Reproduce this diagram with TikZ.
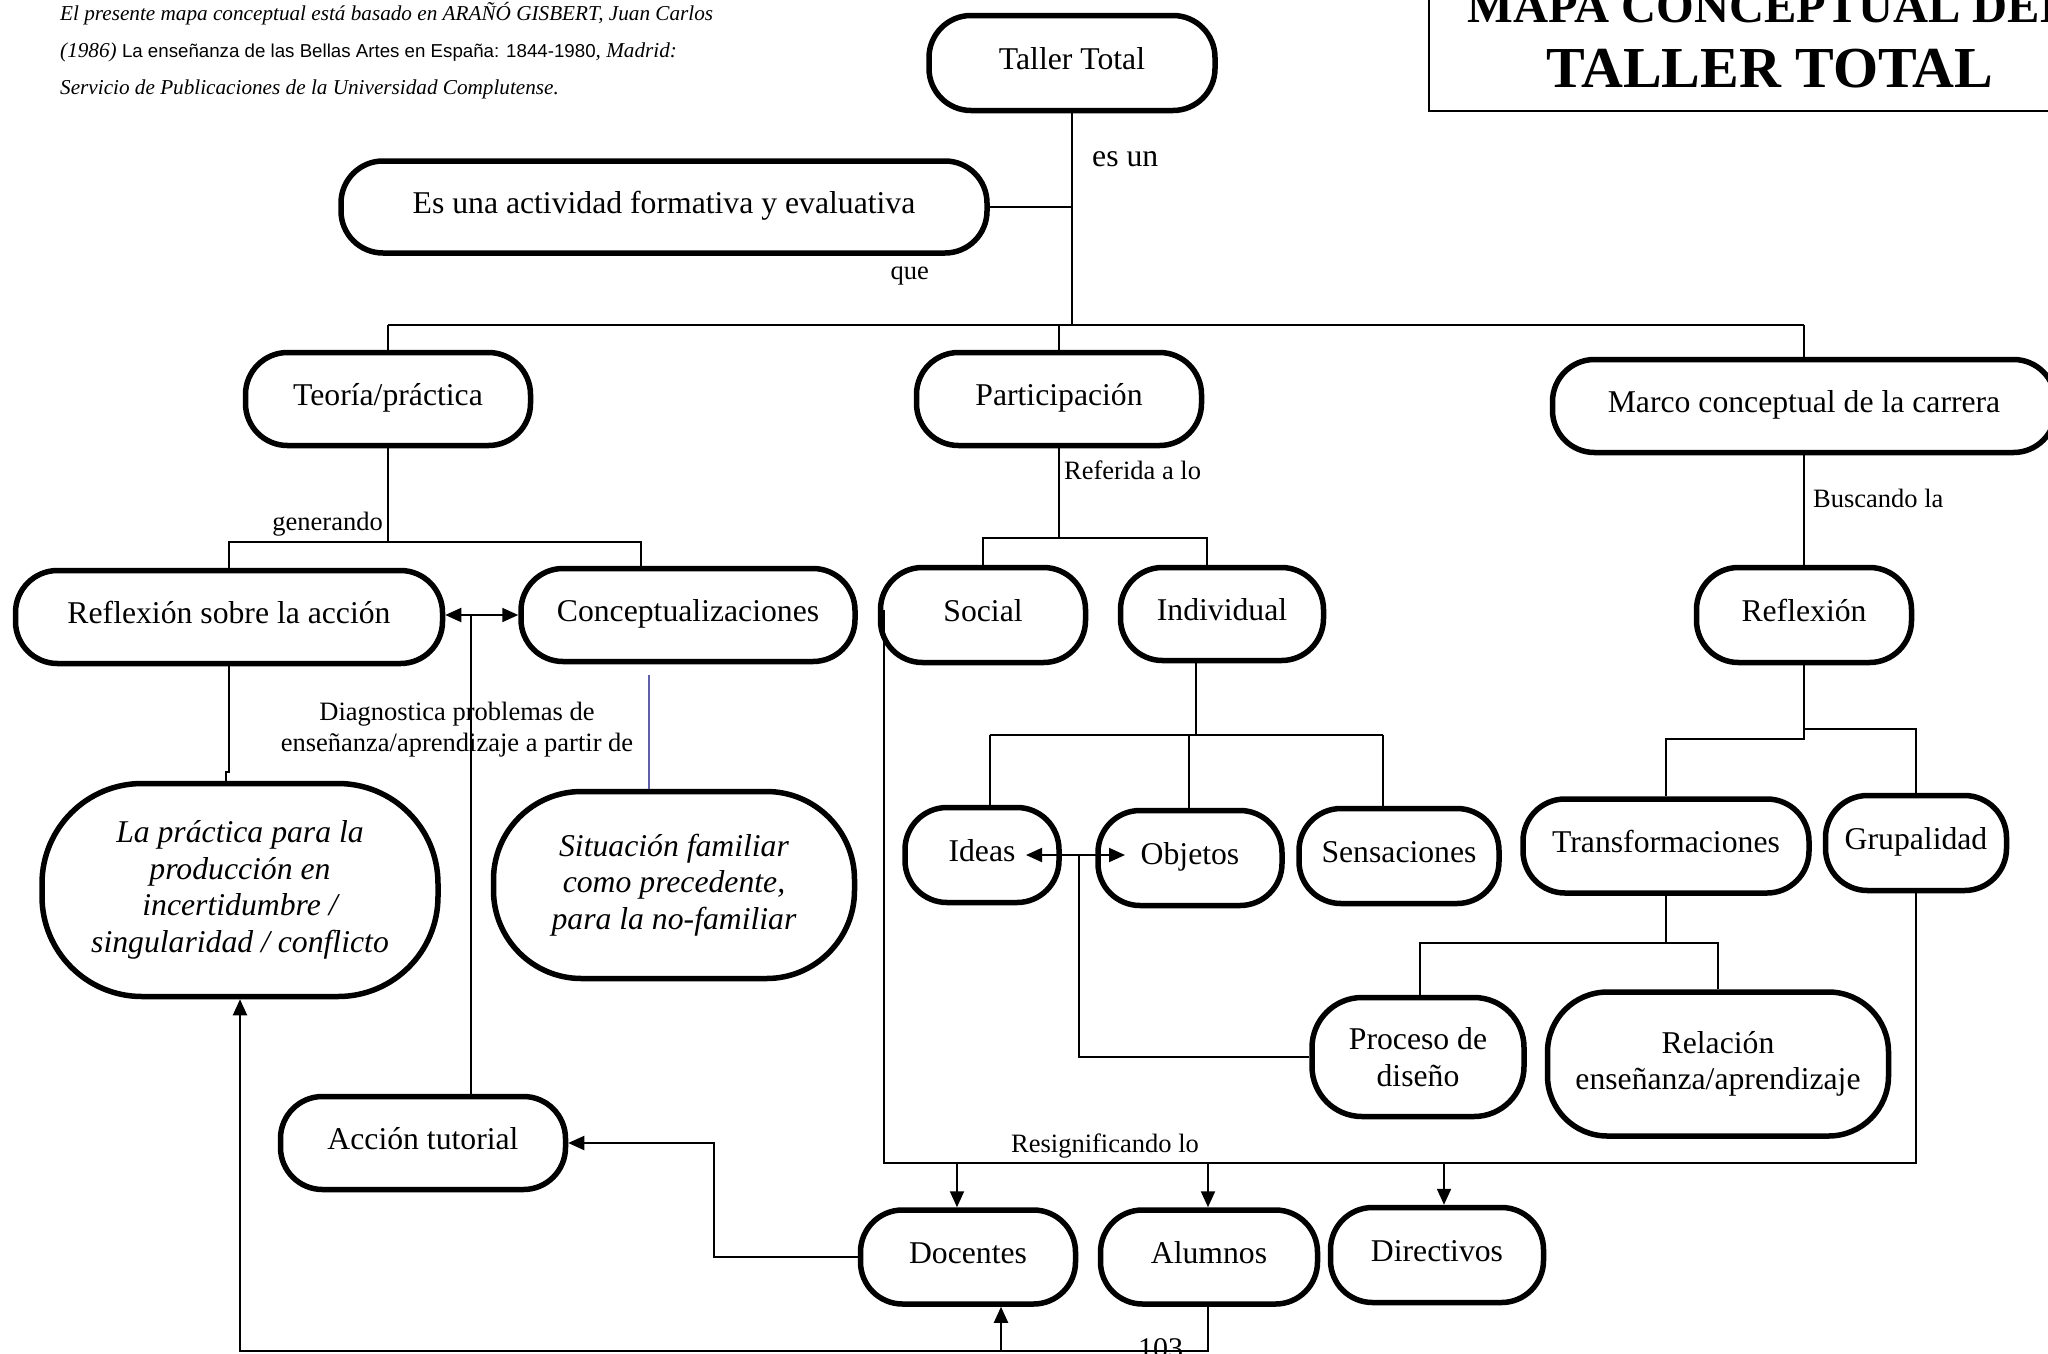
\documentclass[tikz,border=0pt]{standalone}
\usepackage{fontspec}
\setmainfont{Liberation Serif}
\newfontfamily\sansref{Liberation Sans}
\usetikzlibrary{arrows.meta}

\definecolor{slateline}{RGB}{96,96,168}

\tikzset{
  concept/.style={draw, line width=5.5pt, rectangle, rounded corners=42pt,
    inner sep=0pt, align=center, font=\fontsize{31.7}{36.6}\selectfont},
  oneline/.style={text height=20pt, text depth=8pt},
  ital/.style={font=\fontsize{31.7}{36.6}\selectfont\itshape},
  conn/.style={line width=2pt},
  arrowend/.style={-{Triangle[length=16pt,width=14pt]}},
  dblarrow/.style={{Triangle[length=16pt,width=14pt]}-{Triangle[length=16pt,width=14pt]}},
  linklabel/.style={font=\fontsize{26.5}{31}\selectfont, inner sep=0pt},
  slate/.style={line width=1.6pt, draw=slateline},
}

\begin{document}
\begin{tikzpicture}[x=1pt,y=-1pt]
\useasboundingbox (0,0) rectangle (2048,1353);
\clip (0,0) rectangle (2048,1353);

% reference note, top left
\node[anchor=base west, inner sep=0pt, font=\fontsize{21.2}{37}\selectfont\itshape] (note1) at (60,20)
  {El presente mapa conceptual está basado en ARAÑÓ GISBERT, Juan Carlos};
\node[anchor=base west, inner sep=0pt, font=\fontsize{21.2}{37}\selectfont] (note2) at (60,57)
  {\itshape (1986) \upshape{\sansref\fontsize{18.7}{37}\selectfont La enseñanza de las Bellas Artes en España: 1844-1980}\itshape, Madrid:};
\node[anchor=base west, inner sep=0pt, font=\fontsize{21.2}{37}\selectfont\itshape] (note3) at (60,94)
  {Servicio de Publicaciones de la Universidad Complutense.};

% title box
\draw[line width=2.5pt] (1429,-30) rectangle (2100,111);
\node[anchor=base, inner sep=0pt, font=\bfseries\fontsize{48.5}{50}\selectfont] (title1) at (1770,22) {MAPA CONCEPTUAL DEL};
\node[anchor=base, inner sep=0pt, font=\bfseries\fontsize{58}{60}\selectfont] (title2) at (1770,87) {TALLER TOTAL};

% concepts
\node[concept, oneline, minimum width=286pt, minimum height=95pt] (tt) at (1072,63) {Taller Total};
\node[concept, oneline, minimum width=646pt, minimum height=92pt] (es) at (664,207) {Es una actividad formativa y evaluativa};
\node[concept, oneline, minimum width=285pt, minimum height=93pt] (teo) at (388,399) {Teoría/práctica};
\node[concept, oneline, minimum width=285pt, minimum height=93pt] (par) at (1059,399) {Participación};
\node[concept, oneline, minimum width=503pt, minimum height=93pt] (mar) at (1804,406) {Marco conceptual de la carrera};
\node[concept, oneline, minimum width=427pt, minimum height=93pt] (rsa) at (229,617) {Reflexión sobre la acción};
\node[concept, oneline, minimum width=334pt, minimum height=93pt] (con) at (688,615) {Conceptualizaciones};
\node[concept, oneline, minimum width=205pt, minimum height=95pt] (soc) at (983,615) {Social};
\node[concept, oneline, minimum width=203pt, minimum height=93pt] (ind) at (1222,614) {Individual};
\node[concept, oneline, minimum width=215pt, minimum height=95pt] (ref) at (1804,615) {Reflexión};
\node[concept, ital, minimum width=396pt, minimum height=213pt, rounded corners=100pt] (lap) at (240,890)
  {La práctica para la\\producción en\\incertidumbre /\\singularidad / conflicto};
\node[concept, ital, minimum width=361pt, minimum height=187pt, rounded corners=88pt] (sit) at (674,885)
  {Situación familiar\\como precedente,\\para la no-familiar};
\node[concept, oneline, minimum width=154pt, minimum height=95pt] (ide) at (982,855) {Ideas};
\node[concept, oneline, minimum width=184pt, minimum height=95pt] (obj) at (1190,858) {Objetos};
\node[concept, oneline, minimum width=200pt, minimum height=95pt] (sen) at (1399,856) {Sensaciones};
\node[concept, oneline, minimum width=286pt, minimum height=94pt] (tra) at (1666,846) {Transformaciones};
\node[concept, oneline, minimum width=181pt, minimum height=95pt] (gru) at (1916,843) {Grupalidad};
\node[concept, minimum width=212pt, minimum height=119pt, rounded corners=50pt] (pro) at (1418,1057) {Proceso de\\diseño};
\node[concept, minimum width=341pt, minimum height=144pt, rounded corners=60pt] (rel) at (1718,1064) {Relación\\enseñanza/aprendizaje};
\node[concept, oneline, minimum width=285pt, minimum height=93pt] (act) at (423,1143) {Acción tutorial};
\node[concept, oneline, minimum width=215pt, minimum height=94pt] (doc) at (968,1257) {Docentes};
\node[concept, oneline, minimum width=217pt, minimum height=94pt] (alu) at (1209,1257) {Alumnos};
\node[concept, oneline, minimum width=213pt, minimum height=95pt] (dir) at (1437,1255) {Directivos};

% link labels
\node[linklabel, font=\fontsize{31.7}{36.6}\selectfont, anchor=base west] (lbes) at (1092,166) {es un};
\node[linklabel, anchor=base east] (lbque) at (929,279) {que};
\node[linklabel, anchor=base east] (lbgen) at (383,530) {generando};
\node[linklabel, anchor=base west] (lbref) at (1064,479) {Referida a lo};
\node[linklabel, anchor=base west] (lbbus) at (1813,507) {Buscando la};
\node[linklabel, anchor=base] (lbdia1) at (457,720) {Diagnostica problemas de};
\node[linklabel, anchor=base] (lbdia2) at (457,751) {enseñanza/aprendizaje a partir de};
\node[linklabel, anchor=base] (lbres) at (1105,1152) {Resignificando lo};
\node[anchor=base west, inner sep=0pt, font=\fontsize{30}{30}\selectfont] (pg) at (1138,1358) {103};

% trunk from Taller Total
\coordinate (trunk) at (1072,325);
\draw[conn] (tt.south) -- (trunk);
\draw[conn] (es.east) -- (es.east -| trunk);
\draw[conn] (teo.north |- trunk) -- (mar.north |- trunk);
\draw[conn] (teo.north |- trunk) -- (teo.north);
\draw[conn] (par.north |- trunk) -- (par.north);
\draw[conn] (mar.north |- trunk) -- (mar.north);

% Teoría/práctica branches
\coordinate (tsplit) at (388,542);
\coordinate (cdrop) at (641,542);
\draw[conn] (teo.south) -- (tsplit);
\draw[conn] (rsa.north) -- (rsa.north |- tsplit) -- (cdrop) -- (cdrop |- con.north);

% Participación branches
\coordinate (psplit) at (1059,538);
\coordinate (idrop) at (1207,538);
\draw[conn] (par.south) -- (psplit);
\draw[conn] (soc.north) -- (soc.north |- psplit) -- (idrop) -- (idrop |- ind.north);

% Marco conceptual to Reflexión
\draw[conn] (mar.south) -- (ref.north);

% Reflexión sobre la acción to La práctica
\coordinate (jog) at (229,772);
\coordinate (jogb) at (226,772);
\draw[conn] (rsa.south) -- (jog) -- (jogb) -- (jogb |- lap.north);

% Reflexión sobre la acción <-> Conceptualizaciones, fed by Acción tutorial
\draw[conn, dblarrow] (rsa.east |- con.west) -- (con.west);
\coordinate (tj) at (471,615);
\draw[conn] (act.north -| tj) -- (tj);

% Conceptualizaciones to Situación familiar
\coordinate (bl) at (649,675);
\draw[slate] (bl) -- (bl |- sit.north);

% Individual branches
\coordinate (isplit) at (1196,735);
\coordinate (ideD) at (990,735);
\coordinate (objD) at (1189,735);
\coordinate (senD) at (1383,735);
\draw[conn] (ind.south -| isplit) -- (isplit);
\draw[conn] (ideD) -- (senD);
\draw[conn] (ideD) -- (ideD |- ide.north);
\draw[conn] (objD) -- (objD |- obj.north);
\draw[conn] (senD) -- (senD |- sen.north);

% Ideas <-> Objetos, joined to Proceso de diseño
\coordinate (ioL) at (1026,855);
\coordinate (ioR) at (1125,855);
\coordinate (ioJ) at (1079,855);
\draw[conn, dblarrow] (ioL) -- (ioR);
\draw[conn] (ioJ) -- (ioJ |- pro.west) -- (pro.west);

% Reflexión branches
\coordinate (rs1) at (1804,739);
\coordinate (rs2) at (1804,729);
\draw[conn] (ref.south) -- (rs1) -- (rs1 -| tra.north) -- (tra.north);
\draw[conn] (rs2) -- (rs2 -| gru.north) -- (gru.north);

% Transformaciones branches
\coordinate (ts) at (1666,943);
\coordinate (proD) at (1420,943);
\coordinate (relD) at (1718,943);
\draw[conn] (tra.south) -- (ts);
\draw[conn] (proD |- pro.north) -- (proD) -- (relD) -- (relD |- rel.north);

% Social / Grupalidad loop feeding the actors
\coordinate (sl) at (884,610);
\coordinate (rb) at (884,1163);
\draw[conn] (sl) -- (rb) -- (rb -| gru.south) -- (gru.south);
\coordinate (dA) at (957,1163);
\coordinate (aA) at (1208,1163);
\coordinate (drA) at (1444,1163);
\draw[conn, arrowend] (dA) -- (dA |- doc.north);
\draw[conn, arrowend] (aA) -- (aA |- alu.north);
\draw[conn, arrowend] (drA) -- (drA |- dir.north);

% Docentes to Acción tutorial
\coordinate (dt) at (714,1257);
\draw[conn, arrowend] (doc.west) -- (doc.west -| dt) -- (dt |- act.east) -- (act.east);

% bottom loop from Alumnos
\coordinate (bb) at (1208,1351);
\coordinate (dup) at (1001,1351);
\draw[conn, arrowend] (alu.south -| bb) -- (bb) -- (bb -| lap.south) -- (lap.south);
\draw[conn, arrowend] (dup) -- (dup |- doc.south);
\end{tikzpicture}
\end{document}
